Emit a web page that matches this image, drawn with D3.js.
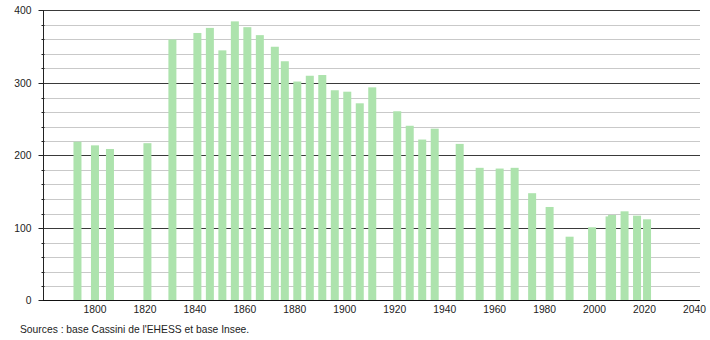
<!DOCTYPE html>
<html>
<head>
<meta charset="utf-8">
<script src="https://cdn.jsdelivr.net/npm/d3@7"></script>
<style>
  html, body { margin: 0; padding: 0; background: #fff; }
  svg { display: block; }
  text { font-family: "Liberation Sans", Arial, sans-serif; }
</style>
</head>
<body>
<svg id="chart" width="710" height="340"></svg>
<script>
const years = [1793, 1800, 1806, 1821, 1831, 1841, 1846, 1851, 1856, 1861, 1866, 1872, 1876,
  1881, 1886, 1891, 1896, 1901, 1906, 1911, 1921, 1926, 1931, 1936, 1946, 1954, 1962, 1968,
  1975, 1982, 1990, 1999, 2006, 2007, 2012, 2017, 2021];
const population = [219, 214, 209, 217, 360, 369, 376, 345, 385, 377, 366, 350, 330,
  302, 310, 311, 290, 288, 272, 294, 261, 241, 222, 237, 216, 183, 182, 183,
  148, 129, 88, 101, 116, 118, 123, 117, 112];
const xTicks = [1800, 1820, 1840, 1860, 1880, 1900, 1920, 1940, 1960, 1980, 2000, 2020, 2040];
const yMajor = [0, 100, 200, 300, 400];
const yMinor = [20, 40, 60, 80, 120, 140, 160, 180, 220, 240, 260, 280, 320, 340, 360, 380];
const sourceText = "Sources : base Cassini de l'EHESS et base Insee.";

const svg = d3.select("#chart");
const x = d3.scaleLinear().domain([1779.2, 2042.2]).range([43, 700]);
const y = d3.scaleLinear().domain([0, 400]).range([300.5, 10.5]);
const barW = 8;
const [x0, x1] = x.range();

// minor gridlines
svg.append("g").selectAll("line").data(yMinor).join("line")
  .attr("x1", x0).attr("x2", x1)
  .attr("y1", d => Math.round(y(d)) + 0.5).attr("y2", d => Math.round(y(d)) + 0.5)
  .attr("stroke", "#c9c9c9").attr("stroke-width", 1);

// major gridlines
svg.append("g").selectAll("line").data(yMajor.filter(d => d > 0)).join("line")
  .attr("x1", x0).attr("x2", x1)
  .attr("y1", d => Math.round(y(d) - 0.5) + 0.5).attr("y2", d => Math.round(y(d) - 0.5) + 0.5)
  .attr("stroke", "#3a3a3a").attr("stroke-width", 1);

// bars
svg.append("g").selectAll("rect").data(years).join("rect")
  .attr("x", (d) => x(d) - barW / 2)
  .attr("width", barW)
  .attr("y", (d, i) => y(population[i]))
  .attr("height", (d, i) => y(0) - y(population[i]))
  .attr("fill", "#ade3ad");

// y axis
const yAxis = svg.append("g").attr("transform", `translate(${x0 + 0.5},0)`);
yAxis.append("line").attr("x1", 0).attr("x2", 0).attr("y1", y(400)).attr("y2", y(0))
  .attr("stroke", "#222");
yAxis.selectAll("line.minor").data(yMinor).join("line").attr("class", "minor")
  .attr("x1", -2).attr("x2", 1)
  .attr("y1", d => Math.round(y(d)) + 0.5).attr("y2", d => Math.round(y(d)) + 0.5)
  .attr("stroke", "#222");
yAxis.selectAll("line.major").data(yMajor).join("line").attr("class", "major")
  .attr("x1", -5).attr("x2", 0)
  .attr("y1", d => Math.round(y(d) - 0.5) + 0.5).attr("y2", d => Math.round(y(d) - 0.5) + 0.5)
  .attr("stroke", "#222");
yAxis.selectAll("text").data(yMajor).join("text")
  .attr("x", -12).attr("y", d => y(d)).attr("dy", "0.35em")
  .attr("text-anchor", "end").attr("font-size", 10.3).attr("fill", "#222")
  .text(d => d);

// x axis
svg.append("line").attr("x1", x0).attr("x2", x1).attr("y1", y(0)).attr("y2", y(0))
  .attr("stroke", "#111");
svg.append("g").selectAll("text").data(xTicks).join("text")
  .attr("x", d => x(d)).attr("y", y(0) + 12.5)
  .attr("text-anchor", "middle").attr("font-size", 10.3).attr("fill", "#222")
  .text(d => d);

// source
svg.append("text").attr("x", 20).attr("y", 332.5)
  .attr("font-size", 10.3).attr("fill", "#222").text(sourceText);
</script>
</body>
</html>
